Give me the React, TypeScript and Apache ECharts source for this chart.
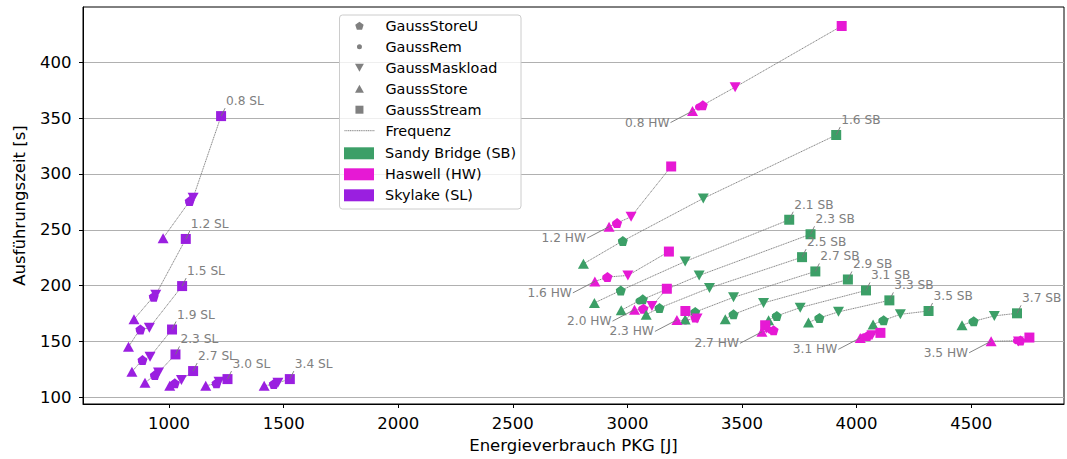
import React, { useEffect, useRef } from 'react';
import * as echarts from 'echarts';

// ---------- data ----------
const xTickValues = [1000, 1500, 2000, 2500, 3000, 3500, 4000, 4500];
const yTickValues = [100, 150, 200, 250, 300, 350, 400];

// Sandy Bridge (SB)
const sbFreq = ['1.6', '2.1', '2.3', '2.5', '2.7', '2.9', '3.1', '3.3', '3.5', '3.7'];
const sbStore = [[2808, 219.5], [2856, 184.5], [2973, 177.9], [3082, 174], [3252, 169.7], [3427, 169.8], [3616, 169], [3790, 166.9], [4072, 165.1], [4460, 164.5]];
const sbRem = [[2975, 239.5], [2966, 195.2], [3050, 186.3], [3134, 179.5], [3290, 176], [3457, 173.9], [3645, 172.5], [3831, 170.7], [4110, 168.6], [4503, 167.7]];
const sbStoreU = [[2980, 240], [2971, 195.7], [3067, 187.7], [3140, 180], [3296, 176.4], [3463, 174.3], [3652, 172.9], [3838, 171.1], [4118, 169], [4511, 168.1]];
const sbMaskload = [[3331, 278.1], [3252, 221.6], [3313, 209.1], [3358, 197.9], [3463, 189.5], [3594, 184.5], [3754, 180.3], [3921, 176.5], [4191, 174.3], [4601, 172.9]];
const sbStream = [[3911, 334.9], [3706, 259], [3799, 246], [3762, 225.5], [3820, 212.7], [3962, 205.5], [4041, 195.7], [4143, 186.8], [4314, 177.3], [4700, 175.2]];

// Haswell (HW)
const hwFreq = ['0.8', '1.2', '1.6', '2.0', '2.3', '2.7', '3.1', '3.5'];
const hwStore = [[3284, 356.3], [2920, 252.8], [2858, 203.8], [3031, 178.5], [3216, 169.3], [3587, 158.6], [4016, 153.2], [4587, 150.2]];
const hwRem = [[3310, 359.9], [2948, 255.3], [2905, 207], [3062, 179], [3253, 168.4], [3623, 160], [4031, 154.1], [4697, 150.6]];
const hwStoreU = [[3329, 361.6], [2955, 256], [2913, 207.7], [3070, 179.4], [3296, 171.4], [3638, 160], [4047, 154.9], [4715, 150.8]];
const hwMaskload = [[3470, 377.7], [3016, 261.7], [3002, 209.1], [3107, 181.8], [3304, 170.5], [3606, 161.5], [4067, 155.6], [4706, 150]];
const hwStream = [[3935, 432.5], [3191, 306.7], [3181, 230.5], [3172, 197.2], [3253, 177.3], [3601, 164.5], [4104, 157.7], [4754, 153.5]];

// Skylake (SL)
const slFreq = ['0.8', '1.2', '1.5', '1.9', '2.3', '2.7', '3.0', '3.4'];
const slStore = [[974, 242.5], [847, 169.8], [823, 145.2], [838, 122.9], [895, 113.1], [1003, 110.4], [1160, 110.4], [1415, 110.4]];
const slRem = [[1086, 274.5], [929, 189.5], [870, 160], [879, 132.5], [933, 119], [1020, 112], [1202, 112], [1452, 111.5]];
const slStoreU = [[1090, 275.7], [933, 190.1], [875, 160.7], [884, 133.3], [938, 119.9], [1025, 112.5], [1207, 112.5], [1457, 112]];
const slMaskload = [[1105, 278.7], [942, 191.9], [914, 162.2], [917, 136.3], [954, 122.3], [1054, 115.4], [1218, 114], [1475, 113]];
const slStream = [[1227, 351.8], [1073, 241.8], [1057, 199.6], [1013, 160.7], [1028, 138.4], [1105, 123.5], [1255, 116.3], [1527, 116.3]];

// ---------- styling ----------
const FONT = 'DejaVu Sans';
const SB_COLOR = '#3c9f67';
const HW_COLOR = '#e619d4';
const SL_COLOR = '#9a1fe0';
const GRAY = '#808080';
const LINE_GRAY = '#777777';

const PENTAGON = 'path://M0,-1L0.951,-0.309L0.588,0.809L-0.588,0.809L-0.951,-0.309Z';
const DOWN_TRI = 'path://M0,0L2,0L1,1.8Z';
const UP_TRI = 'path://M1,0L2,1.8L0,1.8Z';
const SQUARE = 'path://M0,0L1,0L1,1L0,1Z';
const REM_LEGEND = 'path://M-4,-4M4,4M0,-2.5A2.5,2.5,0,1,1,0,2.5A2.5,2.5,0,1,1,0,-2.5Z';

const archs = [
  { name: 'Sandy Bridge (SB)', tag: 'SB', color: SB_COLOR, freq: sbFreq, store: sbStore, rem: sbRem, storeU: sbStoreU, mask: sbMaskload, stream: sbStream, side: 'ne' },
  { name: 'Haswell (HW)', tag: 'HW', color: HW_COLOR, freq: hwFreq, store: hwStore, rem: hwRem, storeU: hwStoreU, mask: hwMaskload, stream: hwStream, side: 'sw' },
  { name: 'Skylake (SL)', tag: 'SL', color: SL_COLOR, freq: slFreq, store: slStore, rem: slRem, storeU: slStoreU, mask: slMaskload, stream: slStream, side: 'ne' },
];

const kernels = [
  { name: 'GaussStoreU', key: 'storeU', symbol: PENTAGON, size: 10, legendIcon: PENTAGON },
  { name: 'GaussRem', key: 'rem', symbol: 'circle', size: 7, legendIcon: REM_LEGEND },
  { name: 'GaussMaskload', key: 'mask', symbol: DOWN_TRI, size: [11, 10], legendIcon: DOWN_TRI },
  { name: 'GaussStore', key: 'store', symbol: UP_TRI, size: [11, 10], legendIcon: UP_TRI },
  { name: 'GaussStream', key: 'stream', symbol: 'rect', size: 10, legendIcon: SQUARE },
];

function buildOption() {
  const series: any[] = [];

  // Horizontal grid lines at the y ticks
  series.push({
    type: 'line',
    name: 'grid',
    data: [],
    silent: true,
    z: 0,
    markLine: {
      silent: true,
      z: 0,
      symbol: 'none',
      label: { show: false },
      emphasis: { disabled: true },
      lineStyle: { color: '#b0b0b0', width: 1, type: 'solid' },
      data: yTickValues.map((v) => ({ yAxis: v })),
    },
  });

  // Frequency connection lines
  archs.forEach((a: any) => {
    a.freq.forEach((_f: string, i: number) => {
      series.push({
        type: 'line',
        name: 'Frequenz',
        data: [a.store[i], a.rem[i], a.storeU[i], a.mask[i], a.stream[i]],
        symbol: 'none',
        showSymbol: false,
        silent: true,
        z: 1,
        color: LINE_GRAY,
        lineStyle: { color: LINE_GRAY, width: 0.9, type: [1.2, 0.6] },
      });
    });
  });

  // Markers
  kernels.forEach((k: any) => {
    const data: any[] = [];
    archs.forEach((a: any) => {
      a[k.key].forEach((p: number[]) => {
        data.push({ value: p, itemStyle: { color: a.color, opacity: 1 } });
      });
    });
    series.push({
      type: 'scatter',
      name: k.name,
      symbol: k.symbol,
      symbolSize: k.size,
      itemStyle: { color: GRAY, opacity: 1 },
      data,
      z: 2,
    });
  });

  // Architecture dummy series for legend
  archs.forEach((a: any) => {
    series.push({ type: 'scatter', name: a.name, data: [], itemStyle: { color: a.color, opacity: 1 } });
  });

  // Frequency labels with leader lines
  const labelData: any[] = [];
  const labelInfo: any[] = [];
  archs.forEach((a: any) => {
    a.freq.forEach((f: string, i: number) => {
      const anchor = a.side === 'ne' ? a.stream[i] : a.store[i];
      labelData.push(anchor);
      labelInfo.push({ text: `${f} ${a.tag}`, side: a.side });
    });
  });
  series.push({
    type: 'custom',
    name: 'labels',
    silent: true,
    z: 3,
    clip: false,
    encode: { x: 0, y: 1 },
    data: labelData,
    renderItem: (params: any, api: any) => {
      const p = api.coord([api.value(0), api.value(1)]);
      const info = labelInfo[params.dataIndex];
      const textStyle = { fill: GRAY, fontSize: 12.2, fontFamily: FONT };
      if (info.side === 'ne') {
        return {
          type: 'group',
          children: [
            { type: 'line', shape: { x1: p[0], y1: p[1], x2: p[0] + 4, y2: p[1] - 8 }, style: { stroke: LINE_GRAY, lineWidth: 0.9 } },
            { type: 'text', x: p[0] + 5, y: p[1] - 15, style: { ...textStyle, text: info.text, align: 'left', verticalAlign: 'middle' } },
          ],
        };
      }
      return {
        type: 'group',
        children: [
          { type: 'line', shape: { x1: p[0] - 22, y1: p[1] + 11.5, x2: p[0], y2: p[1] }, style: { stroke: LINE_GRAY, lineWidth: 0.9 } },
          { type: 'text', x: p[0] - 23, y: p[1] + 11.5, style: { ...textStyle, text: info.text, align: 'right', verticalAlign: 'middle' } },
        ],
      };
    },
  });

  const axisCommon = {
    type: 'value',
    axisLine: { show: true, onZero: false, lineStyle: { color: '#000', width: 1 } },
    nameLocation: 'middle',
    nameTextStyle: { color: '#000', fontSize: 16.5, fontFamily: FONT },
    splitLine: { show: false },
  };

  return {
    animation: false,
    backgroundColor: '#fff',
    textStyle: { fontFamily: FONT },
    grid: { left: 83, right: 3, top: 7, bottom: 53, show: true, borderColor: '#000', borderWidth: 1, backgroundColor: 'transparent' },
    xAxis: {
      ...axisCommon,
      min: 624.5,
      max: 4905,
      splitNumber: 8,
      name: 'Energieverbrauch PKG [J]',
      nameGap: 33,
      axisTick: { show: true, length: 4, lineStyle: { color: '#000', width: 1 }, customValues: xTickValues },
      axisLabel: { color: '#000', fontSize: 16.5, fontFamily: FONT, margin: 11, customValues: xTickValues, formatter: (v: number) => String(v) },
    },
    yAxis: {
      ...axisCommon,
      min: 94,
      max: 449.5,
      splitNumber: 7,
      name: 'Ausführungszeit [s]',
      nameGap: 55,
      axisTick: { show: true, length: 4, lineStyle: { color: '#000', width: 1 }, customValues: yTickValues },
      axisLabel: { color: '#000', fontSize: 16.5, fontFamily: FONT, margin: 11.5, customValues: yTickValues, formatter: (v: number) => String(v) },
    },
    graphic: [
      {
        type: 'rect',
        z: 10,
        shape: { x: 339.5, y: 15, width: 181.5, height: 194, r: 3 },
        style: { fill: 'rgba(255,255,255,0.8)', stroke: '#cccccc', lineWidth: 1 },
      },
    ],
    legend: [
      {
        orient: 'vertical',
        z: 20,
        left: 344,
        top: 18.2,
        padding: 0,
        itemWidth: 30,
        itemHeight: 8,
        itemGap: 6,
        selectedMode: false,
        symbolKeepAspect: true,
        textStyle: { color: '#000', fontSize: 14.4, fontFamily: FONT, lineHeight: 15, padding: [0, 0, 0, 6] },
        data: [
          ...kernels.map((k: any) => ({ name: k.name, icon: k.legendIcon, itemStyle: { color: GRAY, opacity: 1 } })),
          { name: 'Frequenz', itemStyle: { opacity: 0 }, lineStyle: { color: LINE_GRAY, width: 0.9, type: [1.2, 0.6], opacity: 1 } },
        ],
      },
      {
        orient: 'vertical',
        z: 20,
        left: 344,
        top: 145.8,
        padding: 0,
        itemWidth: 30,
        itemHeight: 12,
        itemGap: 6,
        selectedMode: false,
        textStyle: { color: '#000', fontSize: 14.4, fontFamily: FONT, lineHeight: 15, padding: [0, 0, 0, 6] },
        data: archs.map((a: any) => ({ name: a.name, icon: 'rect', itemStyle: { color: a.color, opacity: 1 } })),
      },
    ],
    series,
  };
}

export default function App() {
  const ref = useRef<HTMLDivElement>(null);
  useEffect(() => {
    if (!ref.current) return;
    const chart = echarts.init(ref.current, null, { renderer: 'svg' });
    chart.setOption(buildOption() as any);
    return () => chart.dispose();
  }, []);
  return (
    <div
      ref={ref}
      style={{ position: 'fixed', left: 0, top: 0, width: 1067, height: 459, background: '#fff' }}
    />
  );
}
